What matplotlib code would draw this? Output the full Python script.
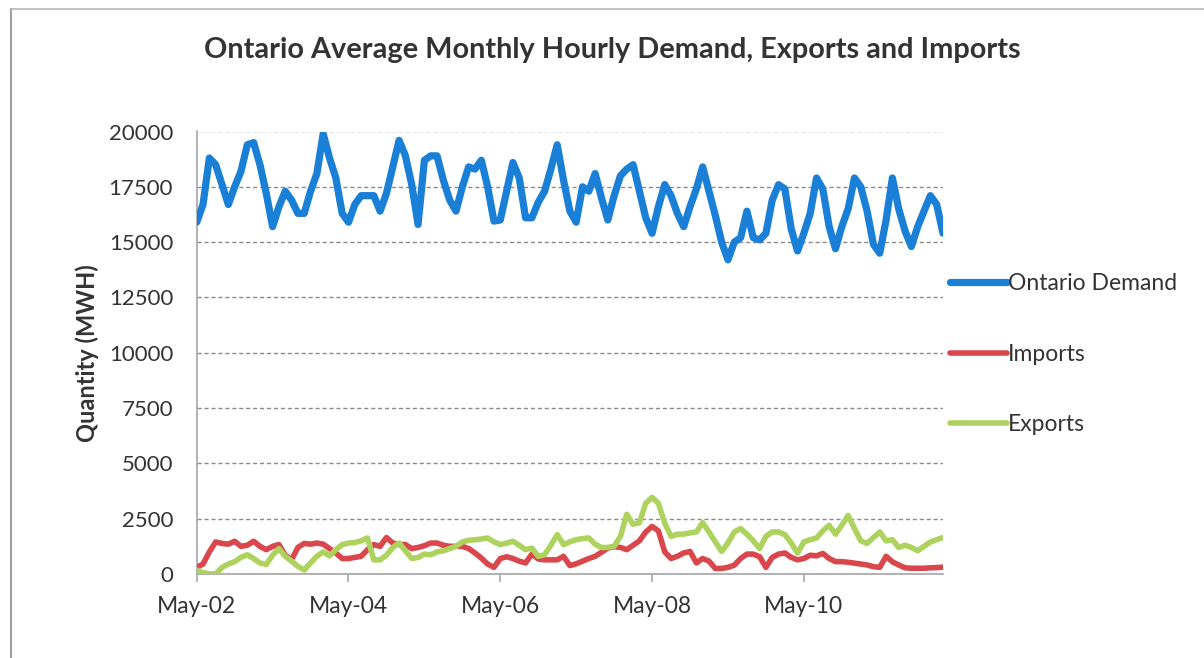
import matplotlib
matplotlib.use('Agg')
import matplotlib.pyplot as plt
from matplotlib.lines import Line2D

# --- Data: monthly averages, May 2002 onward (MWh) ---
demand = [
    15900, 16700, 18800, 18500, 17600, 16700, 17500, 18200, 19400, 19500,
    18500, 17200, 15700, 16600, 17300, 16900, 16300, 16300, 17300, 18100,
    19900, 18800, 17900, 16300, 15900, 16700, 17100, 17100, 17100, 16400,
    17200, 18400, 19600, 18900, 17600, 15800, 18700, 18900, 18900, 17800,
    16900, 16400, 17500, 18400, 18300, 18700, 17500, 15950, 16000, 17300,
    18600, 17900, 16100, 16100, 16800, 17300, 18300, 19400, 17800, 16400,
    15900, 17500, 17300, 18100, 17000, 16000, 17100, 18000, 18300, 18500,
    17300, 16100, 15400, 16600, 17600, 17100, 16300, 15700, 16600, 17400,
    18400, 17300, 16200, 15000, 14200, 15000, 15200, 16400, 15200, 15100,
    15400, 16900, 17600, 17400, 15600, 14600, 15400, 16300, 17900, 17400,
    15700, 14700, 15700, 16500, 17900, 17500, 16400, 14900, 14500, 16000,
    17900, 16500, 15500, 14800, 15700, 16400, 17100, 16700, 15400,
]
imports = [
    300, 450, 1000, 1450, 1380, 1350, 1480, 1250, 1300, 1480,
    1250, 1100, 1250, 1330, 850, 650, 1200, 1380, 1350, 1400,
    1350, 1150, 950, 700, 700, 750, 800, 1100, 1330, 1250,
    1650, 1400, 1330, 1330, 1150, 1200, 1280, 1400, 1400, 1300,
    1250, 1250, 1250, 1150, 950, 720, 450, 300, 700, 780,
    700, 580, 500, 900, 680, 640, 640, 640, 800, 380,
    460, 580, 700, 800, 980, 1170, 1230, 1200, 1100, 1300,
    1500, 1900, 2150, 1950, 1000, 700, 800, 950, 1020, 500,
    700, 580, 250, 250, 300, 400, 700, 900, 900, 780,
    300, 750, 900, 950, 750, 640, 700, 850, 820, 930,
    700, 560, 560, 530, 490, 450, 410, 330, 300, 800,
    550, 410, 280, 260, 260, 260, 280, 290, 310,
]
exports = [
    180, 60, 10, 0, 300, 450, 560, 750, 870, 700,
    500, 430, 850, 1150, 800, 580, 350, 180, 500, 800,
    1000, 820, 1100, 1330, 1400, 1420, 1500, 1630, 640, 640,
    850, 1200, 1400, 1050, 700, 750, 900, 870, 1000, 1050,
    1150, 1250, 1450, 1520, 1550, 1580, 1630, 1450, 1330, 1400,
    1480, 1300, 1100, 1170, 800, 870, 1300, 1780, 1330, 1450,
    1550, 1600, 1630, 1350, 1200, 1200, 1250, 1700, 2700, 2250,
    2320, 3200, 3460, 3200, 2300, 1700, 1800, 1800, 1860, 1900,
    2320, 1900, 1450, 1020, 1400, 1900, 2050, 1800, 1500, 1150,
    1700, 1900, 1900, 1780, 1400, 950, 1450, 1550, 1630, 1950,
    2200, 1800, 2200, 2650, 2050, 1500, 1380, 1650, 1900, 1500,
    1550, 1200, 1300, 1200, 1050, 1250, 1450, 1550, 1650,
]
tick_months = [0, 24, 48, 72, 96]
tick_labels = ['May-02', 'May-04', 'May-06', 'May-08', 'May-10']
y_ticks = list(range(0, 20001, 2500))

BLUE = '#1a7fd6'
RED = '#d9474d'
GREEN = '#add35e'
TEXT = '#333333'

plt.rcParams['font.family'] = ['Lato', 'DejaVu Sans']

fig = plt.figure(figsize=(12.04, 6.58), dpi=100)
fig.patch.set_facecolor('white')

# chart frame: only left and top edges are visible
W, H = 1204, 658
fig.add_artist(Line2D([11 / W, 11 / W], [0, 1 - 9 / H], transform=fig.transFigure,
                      color='#a0a0a0', linewidth=1.5))
fig.add_artist(Line2D([11 / W, 1], [1 - 9 / H, 1 - 9 / H], transform=fig.transFigure,
                      color='#b8b8b8', linewidth=1.2))

ax = fig.add_axes([196.7 / W, (H - 574) / H,
                   (943 - 196.7) / W, (574 - 131.5) / H])

x = list(range(len(demand)))
ax.plot(x, demand, color=BLUE, linewidth=5.2, solid_capstyle='round',
        solid_joinstyle='round', label='Ontario Demand', zorder=3)
ax.plot(x, imports, color=RED, linewidth=4, solid_capstyle='round',
        solid_joinstyle='round', label='Imports', zorder=3)
ax.plot(x, exports, color=GREEN, linewidth=4, solid_capstyle='round',
        solid_joinstyle='round', label='Exports', zorder=3)

ax.set_xlim(0, len(demand) - 1)
ax.set_ylim(0, 20000)
ax.set_yticks(y_ticks)
ax.set_yticklabels([str(v) for v in y_ticks])
ax.set_xticks(tick_months)
ax.set_xticklabels(tick_labels)

ax.grid(axis='y', color='#8c8c8c', linestyle=(0, (3, 2)), linewidth=1.0)
ax.set_axisbelow(True)

for side in ['top', 'right']:
    ax.spines[side].set_visible(False)
for side in ['left', 'bottom']:
    ax.spines[side].set_color('#a6a6a6')
    ax.spines[side].set_linewidth(1.2)

ax.tick_params(axis='y', length=0, pad=17, labelsize=16, labelcolor=TEXT)
ax.tick_params(axis='x', length=6, width=1.2, color='#a6a6a6', pad=10,
               labelsize=16.5, labelcolor=TEXT)

ax.set_ylabel('Quantity (MWH)', fontsize=17, fontweight='bold',
              color=TEXT, labelpad=7)

fig.text(612 / W, 1 - 50 / H,
         'Ontario Average Monthly Hourly Demand, Exports and Imports',
         ha='center', va='center', fontsize=20.8, fontweight='bold', color=TEXT)

leg = ax.legend(loc='center left', bbox_to_anchor=(1.0, 0.497), frameon=False,
                fontsize=16.5, handlelength=2.5, handletextpad=0.05,
                labelspacing=2.15, borderpad=0, borderaxespad=0.3)
for txt in leg.get_texts():
    txt.set_color(TEXT)

fig.savefig('out.png', dpi=100)
